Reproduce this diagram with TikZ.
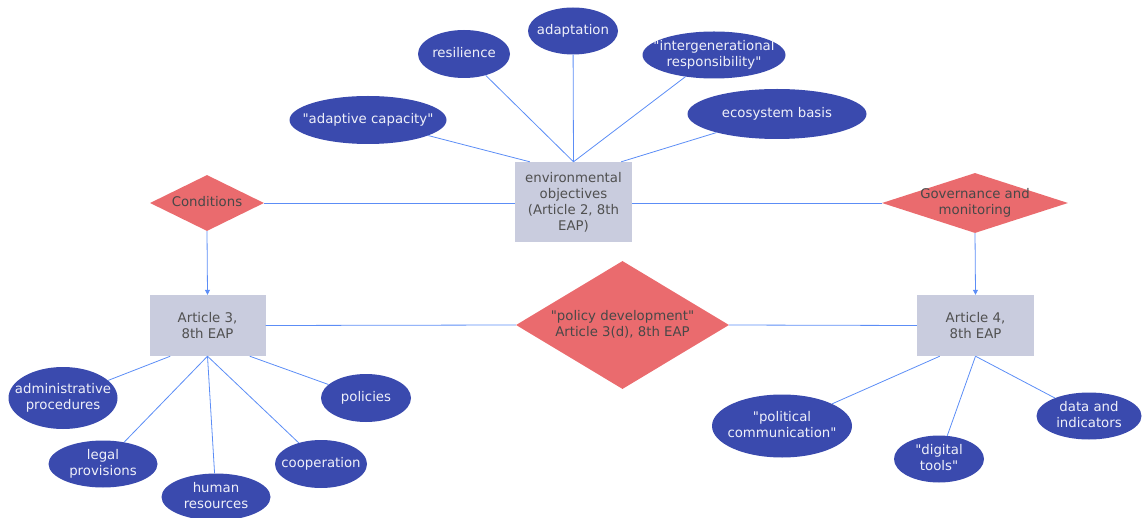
\documentclass[tikz,border=0pt]{standalone}
\usepackage{fontspec}
\setmainfont{DejaVu Sans}
\usetikzlibrary{shapes.geometric,arrows.meta,calc}
\definecolor{ellfill}{RGB}{58,74,174}
\definecolor{diafill}{RGB}{234,107,110}
\definecolor{boxfill}{RGB}{201,204,222}
\definecolor{linec}{RGB}{92,141,246}
\definecolor{boxtext}{RGB}{80,80,80}
\definecolor{diatext}{RGB}{72,72,72}
\newcommand{\zt}[1]{\makebox[0pt]{\begin{tabular}{@{}c@{}}#1\end{tabular}}}
\newcommand{\q}{\textquotedbl{}}
\begin{document}
\begin{tikzpicture}[x=1pt,y=-1pt,
  every node/.style={font=\fontsize{13.3}{16}\selectfont},
  ell/.style={ellipse, fill=ellfill, text=white!92!ellfill, inner sep=0pt},
  dia/.style={diamond, fill=diafill, text=diatext, inner sep=0pt},
  box/.style={rectangle, fill=boxfill, text=boxtext, inner sep=0pt, align=center},
  conn/.style={draw=linec, line width=0.8pt},
  arr/.style={conn, -{Triangle[length=5pt,width=5pt]}}]
\useasboundingbox (0,0) rectangle (1147,518);
% boxes
\node[box, minimum width=117, minimum height=80] (env) at (573.5,202) {environmental\\objectives\\(Article 2, 8th\\EAP)};
\node[box, minimum width=116, minimum height=61] (a3) at (207.5,325.5) {Article 3,\\8th EAP};
\node[box, minimum width=117, minimum height=61] (a4) at (975.5,325.5) {Article 4,\\8th EAP};
% diamonds
\node[dia, aspect=2.04, minimum width=114, minimum height=56] (cond) at (207,203) {\zt{Conditions}};
\node[dia, aspect=3.1, minimum width=186, minimum height=60] (gov) at (975,203) {\zt{Governance and\\monitoring}};
\node[dia, aspect=1.66, minimum width=213, minimum height=128] (pol) at (622.5,325) {\zt{\q policy development\q\\Article 3(d), 8th EAP}};
% top ellipses
\node[ell, minimum width=90, minimum height=47] (adapt) at (573,31) {\zt{adaptation}};
\node[ell, minimum width=92, minimum height=48] (resil) at (464,54) {\zt{resilience}};
\node[ell, minimum width=143, minimum height=47] (inter) at (714,55) {\zt{\q intergenerational\\responsibility\q}};
\node[ell, minimum width=157, minimum height=48] (adcap) at (368,120) {\zt{\q adaptive capacity\q}};
\node[ell, minimum width=179, minimum height=50] (eco) at (777,114) {\zt{ecosystem basis}};
% bottom-left ellipses
\node[ell, minimum width=109, minimum height=62] (admin) at (63,398) {\zt{administrative\\procedures}};
\node[ell, minimum width=109, minimum height=47] (legal) at (103,464) {\zt{legal\\provisions}};
\node[ell, minimum width=109, minimum height=47] (human) at (216,497) {\zt{human\\resources}};
\node[ell, minimum width=92, minimum height=48] (coop) at (321,464) {\zt{cooperation}};
\node[ell, minimum width=90, minimum height=48] (polic) at (366,398) {\zt{policies}};
% bottom-right ellipses
\node[ell, minimum width=140, minimum height=63] (polcom) at (782,426) {\zt{\q political\\communication\q}};
\node[ell, minimum width=90, minimum height=47] (digit) at (939,459) {\zt{\q digital\\tools\q}};
\node[ell, minimum width=105, minimum height=47] (data) at (1089,416) {\zt{data and\\indicators}};
% connectors top
\draw[conn] (adcap) -- ($(env.north west)+(15,0)$);
\draw[conn] (resil) -- (env.north);
\draw[conn] (adapt) -- (env.north);
\draw[conn] (inter) -- (env.north);
\draw[conn] (eco) -- ($(env.north east)+(-11,0)$);
% main connectors
\draw[conn] (cond.east) -- (cond.east -| env.west);
\draw[conn] (env.east |- gov.west) -- (gov.west);
\draw[arr] (cond.south) -- (a3.north);
\draw[arr] (gov.south) -- (a4.north);
\draw[conn] (a3.east) -- (pol.west);
\draw[conn] (pol.east) -- (a4.west);
% bottom-left connectors
\draw[conn] (admin) -- ($(a3.south west)+(21,0)$);
\draw[conn] (legal) -- (a3.south);
\draw[conn] (human) -- (a3.south);
\draw[conn] (coop) -- (a3.south);
\draw[conn] (polic) -- ($(a3.south east)+(-16,0)$);
% bottom-right connectors
\draw[conn] (polcom) -- ($(a4.south west)+(23,0)$);
\draw[conn] (digit) -- (a4.south);
\draw[conn] (data) -- (a4.south);
\end{tikzpicture}
\end{document}
